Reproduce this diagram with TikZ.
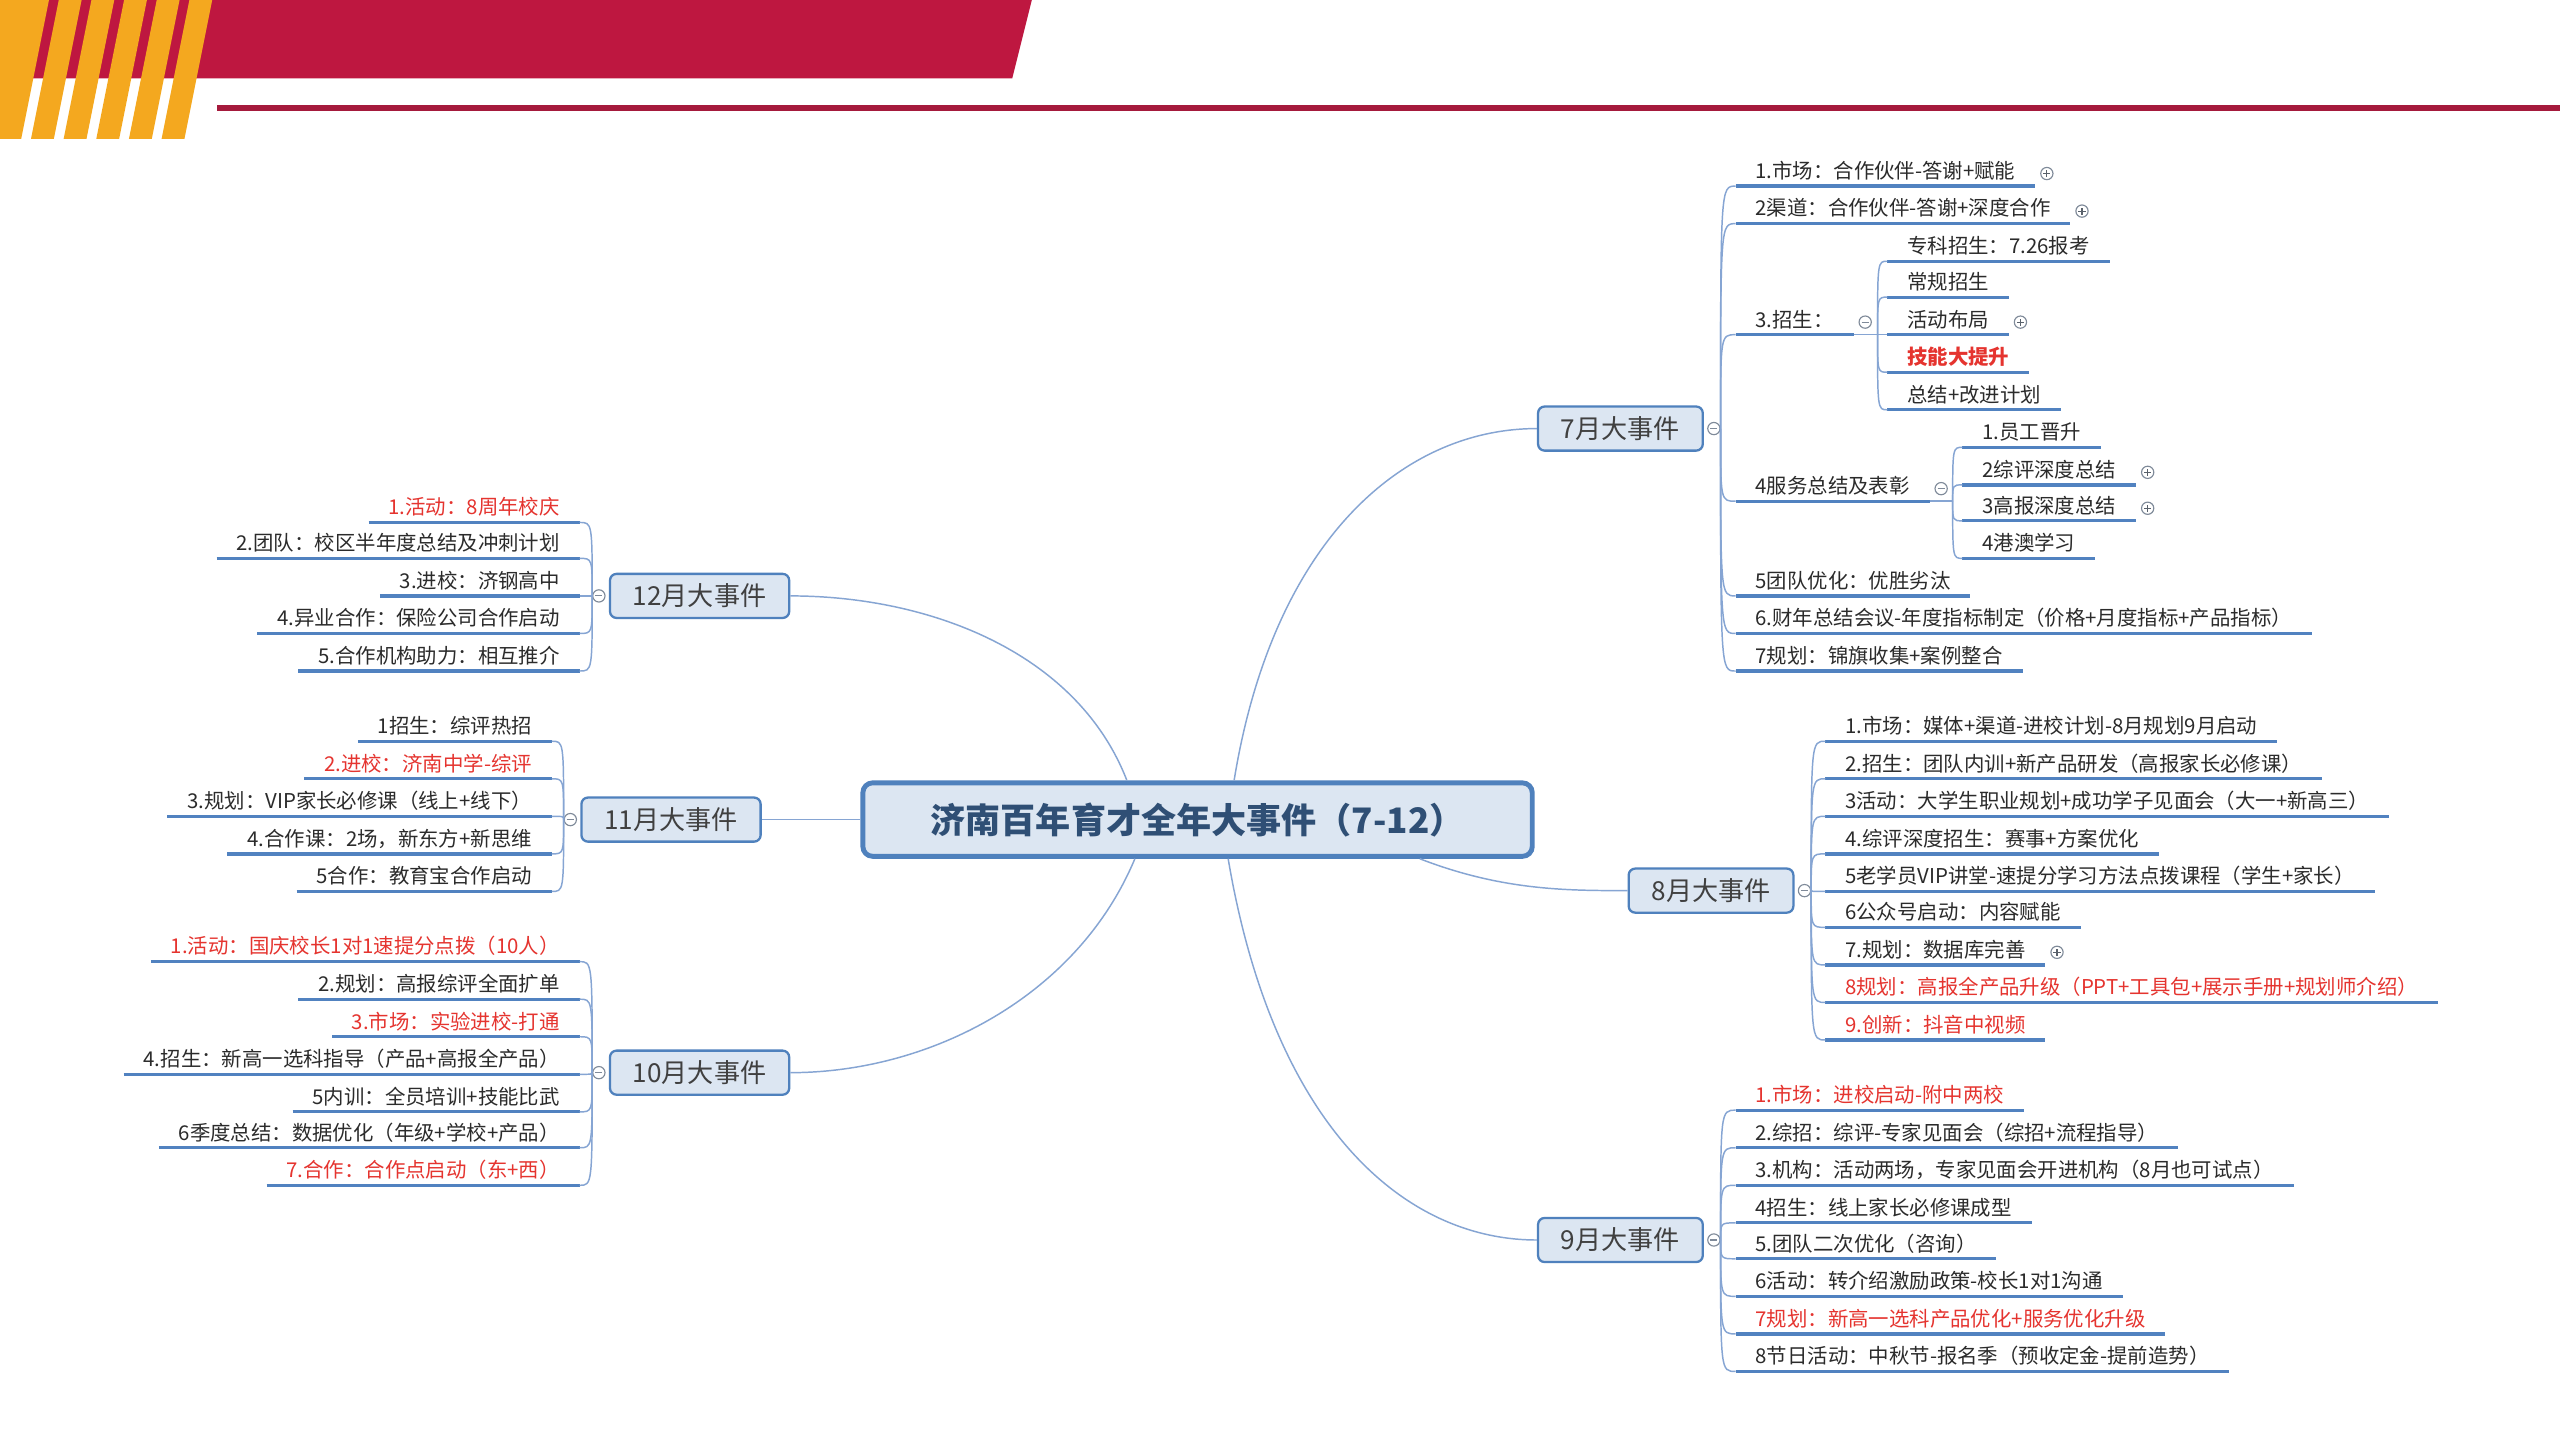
\documentclass[tikz,border=0pt]{standalone}
\usepackage{fontspec}
\setmainfont{Noto Sans CJK SC}
\usetikzlibrary{positioning}

\definecolor{hdred}{HTML}{BE1740}
\definecolor{hdline}{HTML}{A51A3C}
\definecolor{hdyel}{HTML}{F4A81F}
\definecolor{boxfill}{HTML}{DCE6F2}
\definecolor{boxline}{HTML}{4F81BD}
\definecolor{ulblue}{HTML}{5182C0}
\definecolor{connblue}{HTML}{86A5D3}
\definecolor{foldgrey}{HTML}{7F8A99}
\definecolor{txt}{HTML}{2B2B2B}
\definecolor{txtred}{HTML}{E5342F}
\definecolor{titblue}{HTML}{2F4F75}

\tikzset{
  month/.style={draw=boxline, fill=boxfill, line width=1.4pt, rounded corners=4pt,
    inner xsep=14pt, minimum height=27pt, text=txt!90, font=\fontsize{16pt}{18pt}\selectfont},
  leaf/.style={anchor=south west, inner xsep=12pt, inner ysep=1.5pt, text height=9pt,
    text depth=3pt, text=txt, font=\fontsize{12.5pt}{14pt}\selectfont},
  leafl/.style={leaf, anchor=south east},
  hot/.style={text=txtred},
  uline/.style={draw=ulblue, line width=2pt},
  conn/.style={draw=connblue, line width=0.9pt},
  fold/.style={circle, draw=foldgrey, fill=white, line width=0.7pt, inner sep=0pt, minimum size=7.5pt},
  foldminus/.style={fold, path picture={
    \draw[foldgrey, line width=0.7pt] ([xshift=-2.2pt]path picture bounding box.center) -- ([xshift=2.2pt]path picture bounding box.center);}},
  foldplus/.style={fold, path picture={
    \draw[foldgrey!70!black, line width=0.7pt] ([xshift=-2.2pt]path picture bounding box.center) -- ([xshift=2.2pt]path picture bounding box.center);
    \draw[foldgrey!70!black, line width=0.7pt] ([yshift=-2.2pt]path picture bounding box.center) -- ([yshift=2.2pt]path picture bounding box.center);}},
}

\begin{document}
\begin{tikzpicture}[x=1pt, y=-1pt]
    \useasboundingbox (0,0) rectangle (1568,882);
    \fill[white] (0,0) rectangle (1568,882);

    % header band
    \fill[hdred] (0,0) -- (632,0) -- (620,48) -- (0,48) -- cycle;
    \fill[hdyel] (0,0) -- (30,0) -- (13,85) -- (0,85) -- cycle;
    \foreach \x in {36,56,76,96,116}
        \fill[hdyel] (\x,0) -- (\x+14,0) -- (\x-3,85) -- (\x-17,85) -- cycle;
    \fill[hdline] (133,64.5) rectangle (1568,68);

    % centre and months
    \node[draw=boxline, fill=boxfill, line width=3pt, rounded corners=6pt, minimum width=410pt,
        minimum height=45pt, text=titblue, font=\fontsize{21.5pt}{24pt}\selectfont\bfseries]
        (tit) at (733.5,502) {济南百年育才全年大事件（7-12）};

    \node[month] (m7) at (992.5,262.5) {7月大事件};
    \node[month] (m8) at (1048,545.5) {8月大事件};
    \node[month] (m9) at (992.5,759.5) {9月大事件};
    \node[month] (m12) at (428.5,365) {12月大事件};
    \node[month] (m11) at (411,502) {11月大事件};
    \node[month] (m10) at (428.5,657) {10月大事件};

    \node[foldminus, right=2pt of m7] (c7) {};
    \node[foldminus, right=2pt of m8] (c8) {};
    \node[foldminus, right=2pt of m9] (c9) {};
    \node[foldminus, left=2pt of m12] (c12) {};
    \node[foldminus, left=2pt of m11] (c11) {};
    \node[foldminus, left=2pt of m10] (c10) {};

    \draw[conn] (tit.47) .. controls (780,330) and (860,262.5) .. (m7.west);
    \draw[conn] (tit.350) .. controls (920,545.5) and (960,545.5) .. (m8.west);
    \draw[conn] (tit.308) .. controls (780,690) and (860,759.5) .. (m9.west);
    \draw[conn] (tit.151) .. controls (660,400) and (570,365) .. (m12.east);
    \draw[conn] (tit.west) -- (m11.east);
    \draw[conn] (tit.212) .. controls (660,610) and (570,657) .. (m10.east);

    % July
    \node[leaf] (a1) at (1063,114) {1.市场：合作伙伴-答谢+赋能};
    \node[leaf] (a2) at (1063,137) {2渠道：合作伙伴-答谢+深度合作};
    \node[leaf] (a3) at (1063,205) {3.招生：};
    \node[leaf] (a4) at (1063,307) {4服务总结及表彰};
    \node[leaf] (a5) at (1063,365) {5团队优化：优胜劣汰};
    \node[leaf] (a6) at (1063,388) {6.财年总结会议-年度指标制定（价格+月度指标+产品指标）};
    \node[leaf] (a7) at (1063,411) {7规划：锦旗收集+案例整合};

    \node[leaf] (b1) at (1156,160) {专科招生：7.26报考};
    \node[leaf] (b2) at (1156,182) {常规招生};
    \node[leaf] (b3) at (1156,205) {活动布局};
    \node[leaf, hot, font=\fontsize{12.5pt}{14pt}\selectfont\bfseries] (b4) at (1156,228) {技能大提升};
    \node[leaf] (b5) at (1156,251) {总结+改进计划};

    \node[leaf] (d1) at (1202,274) {1.员工晋升};
    \node[leaf] (d2) at (1202,297) {2综评深度总结};
    \node[leaf] (d3) at (1202,319) {3高报深度总结};
    \node[leaf] (d4) at (1202,342) {4港澳学习};

    \node[foldminus, right=3pt of a3] (c3) {};
    \node[foldminus, right=3pt of a4] (c4) {};
    \coordinate (j3) at (1150,205);
    \coordinate (j4) at (1196,307);

    % August
    \node[leaf] (e1) at (1118,454) {1.市场：媒体+渠道-进校计划-8月规划9月启动};
    \node[leaf] (e2) at (1118,477) {2.招生：团队内训+新产品研发（高报家长必修课）};
    \node[leaf] (e3) at (1118,500) {3活动：大学生职业规划+成功学子见面会（大一+新高三）};
    \node[leaf] (e4) at (1118,523) {4.综评深度招生：赛事+方案优化};
    \node[leaf] (e5) at (1118,546) {5老学员VIP讲堂-速提分学习方法点拨课程（学生+家长）};
    \node[leaf] (e6) at (1118,568) {6公众号启动：内容赋能};
    \node[leaf] (e7) at (1118,591) {7.规划：数据库完善};
    \node[leaf, hot] (e8) at (1118,614) {8规划：高报全产品升级（PPT+工具包+展示手册+规划师介绍）};
    \node[leaf, hot] (e9) at (1118,637) {9.创新：抖音中视频};

    % September
    \node[leaf, hot] (f1) at (1063,680) {1.市场：进校启动-附中两校};
    \node[leaf] (f2) at (1063,703) {2.综招：综评-专家见面会（综招+流程指导）};
    \node[leaf] (f3) at (1063,726) {3.机构：活动两场，专家见面会开进机构（8月也可试点）};
    \node[leaf] (f4) at (1063,749) {4招生：线上家长必修课成型};
    \node[leaf] (f5) at (1063,771) {5.团队二次优化（咨询）};
    \node[leaf] (f6) at (1063,794) {6活动：转介绍激励政策-校长1对1沟通};
    \node[leaf, hot] (f7) at (1063,817) {7规划：新高一选科产品优化+服务优化升级};
    \node[leaf] (f8) at (1063,840) {8节日活动：中秋节-报名季（预收定金-提前造势）};

    % December
    \node[leafl, hot] (g1) at (355,320) {1.活动：8周年校庆};
    \node[leafl] (g2) at (355,342) {2.团队：校区半年度总结及冲刺计划};
    \node[leafl] (g3) at (355,365) {3.进校：济钢高中};
    \node[leafl] (g4) at (355,388) {4.异业合作：保险公司合作启动};
    \node[leafl] (g5) at (355,411) {5.合作机构助力：相互推介};

    % November
    \node[leafl] (h1) at (338,454) {1招生：综评热招};
    \node[leafl, hot] (h2) at (338,477) {2.进校：济南中学-综评};
    \node[leafl] (h3) at (338,500) {3.规划：VIP家长必修课（线上+线下）};
    \node[leafl] (h4) at (338,523) {4.合作课：2场，新东方+新思维};
    \node[leafl] (h5) at (338,546) {5合作：教育宝合作启动};

    % October
    \node[leafl, hot] (k1) at (355,589) {1.活动：国庆校长1对1速提分点拨（10人）};
    \node[leafl] (k2) at (355,612) {2.规划：高报综评全面扩单};
    \node[leafl, hot] (k3) at (355,635) {3.市场：实验进校-打通};
    \node[leafl] (k4) at (355,658) {4.招生：新高一选科指导（产品+高报全产品）};
    \node[leafl] (k5) at (355,681) {5内训：全员培训+技能比武};
    \node[leafl] (k6) at (355,703) {6季度总结：数据优化（年级+学校+产品）};
    \node[leafl, hot] (k7) at (355,726) {7.合作：合作点启动（东+西）};

    % expand marks
    \node[foldplus, right=3pt of a1] (p1) {};
    \node[foldplus, right=3pt of a2] (p2) {};
    \node[foldplus, right=3pt of b3] (p3) {};
    \node[foldplus, right=3pt of d2] (p4) {};
    \node[foldplus, right=3pt of d3] (p5) {};
    \node[foldplus, right=3pt of e7] (p6) {};

    % underlines
    \foreach \n in {a1,a2,a3,a4,a5,a6,a7,b1,b2,b3,b4,b5,d1,d2,d3,d4,
                    e1,e2,e3,e4,e5,e6,e7,e8,e9,f1,f2,f3,f4,f5,f6,f7,f8,
                    g1,g2,g3,g4,g5,h1,h2,h3,h4,h5,k1,k2,k3,k4,k5,k6,k7}
        \draw[uline] (\n.south west) -- (\n.south east);

    % branches
    \foreach \n in {a1,a2,a3,a4,a5,a6,a7}
        \draw[conn] (c7.east) .. controls (c7.east |- \n.south west) .. (\n.south west);
    \draw[conn] (a3.south east) -- (j3);
    \foreach \n in {b1,b2,b3,b4,b5}
        \draw[conn] (j3) .. controls (j3 |- \n.south west) .. (\n.south west);
    \draw[conn] (a4.south east) -- (j4);
    \foreach \n in {d1,d2,d3,d4}
        \draw[conn] (j4) .. controls (j4 |- \n.south west) .. (\n.south west);
    \foreach \n in {e1,e2,e3,e4,e5,e6,e7,e8,e9}
        \draw[conn] (c8.east) .. controls (c8.east |- \n.south west) .. (\n.south west);
    \foreach \n in {f1,f2,f3,f4,f5,f6,f7,f8}
        \draw[conn] (c9.east) .. controls (c9.east |- \n.south west) .. (\n.south west);
    \foreach \n in {g1,g2,g3,g4,g5}
        \draw[conn] (c12.west) .. controls (c12.west |- \n.south east) .. (\n.south east);
    \foreach \n in {h1,h2,h3,h4,h5}
        \draw[conn] (c11.west) .. controls (c11.west |- \n.south east) .. (\n.south east);
    \foreach \n in {k1,k2,k3,k4,k5,k6,k7}
        \draw[conn] (c10.west) .. controls (c10.west |- \n.south east) .. (\n.south east);
\end{tikzpicture}
\end{document}
